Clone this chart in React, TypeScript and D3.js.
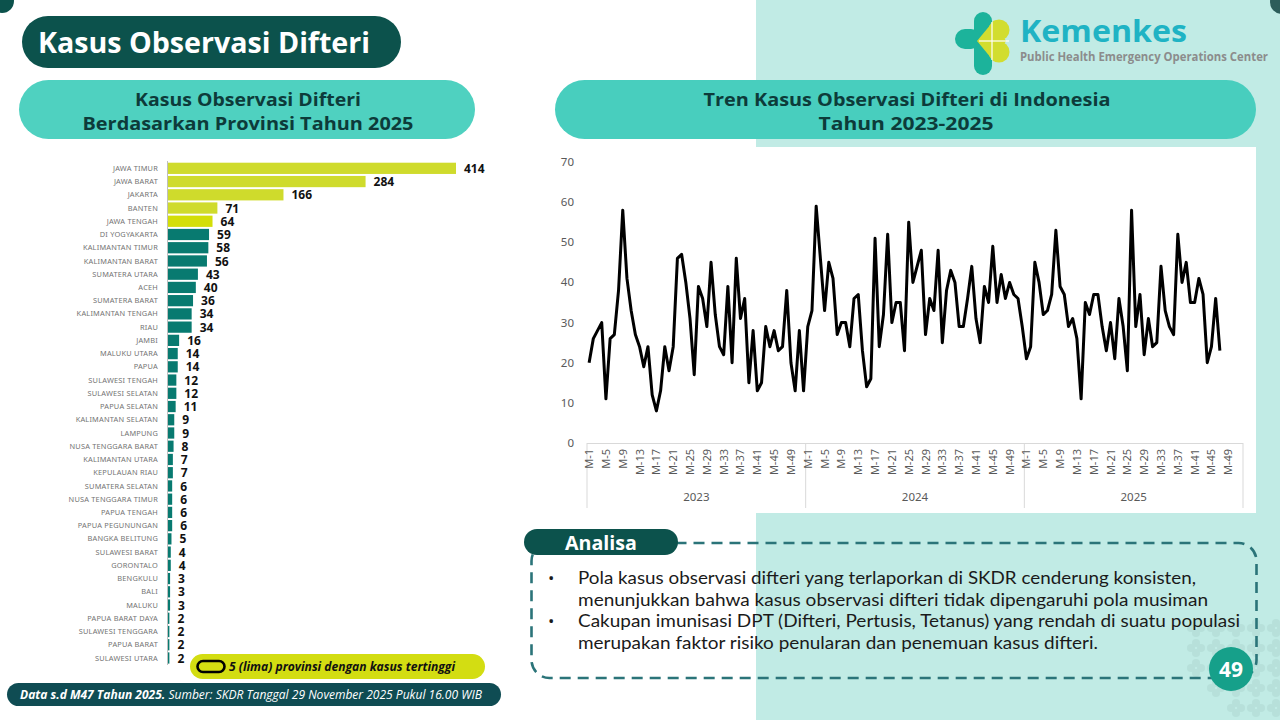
import * as d3 from "d3";

// provinces, 2025 (sorted as in the source)
const provinces = [
  "JAWA TIMUR", "JAWA BARAT", "JAKARTA", "BANTEN", "JAWA TENGAH", "DI YOGYAKARTA",
  "KALIMANTAN TIMUR", "KALIMANTAN BARAT", "SUMATERA UTARA", "ACEH", "SUMATERA BARAT",
  "KALIMANTAN TENGAH", "RIAU", "JAMBI", "MALUKU UTARA", "PAPUA", "SULAWESI TENGAH",
  "SULAWESI SELATAN", "PAPUA SELATAN", "KALIMANTAN SELATAN", "LAMPUNG",
  "NUSA TENGGARA BARAT", "KALIMANTAN UTARA", "KEPULAUAN RIAU", "SUMATERA SELATAN",
  "NUSA TENGGARA TIMUR", "PAPUA TENGAH", "PAPUA PEGUNUNGAN", "BANGKA BELITUNG",
  "SULAWESI BARAT", "GORONTALO", "BENGKULU", "BALI", "MALUKU", "PAPUA BARAT DAYA",
  "SULAWESI TENGGARA", "PAPUA BARAT", "SULAWESI UTARA",
];
const provinceCases = [
  414, 284, 166, 71, 64, 59, 58, 56, 43, 40, 36, 34, 34, 16, 14, 14, 12, 12, 11, 9, 9,
  8, 7, 7, 6, 6, 6, 6, 5, 4, 4, 3, 3, 3, 2, 2, 2, 2,
];
const topN = 5;

// weekly trend
const years = ["2023", "2024", "2025"];
const weeksPerYear = 52;
const weekly2023 = [
  20, 26, 28, 30, 11, 26, 27, 38, 58, 41, 33, 27, 24, 19, 24, 12, 8, 13, 24, 18, 24, 46,
  47, 40, 31, 17, 39, 36, 29, 45, 32, 24, 22, 39, 20, 46, 31, 36, 15, 28, 13, 15, 29, 24,
  28, 23, 24, 38, 20, 13, 28, 13,
];
const weekly2024 = [
  29, 33, 59, 46, 33, 45, 41, 27, 30, 30, 24, 36, 37, 23, 14, 16, 51, 24, 32, 52, 30, 35,
  35, 23, 55, 40, 44, 48, 27, 36, 33, 48, 25, 38, 43, 40, 29, 29, 36, 44, 31, 25, 39, 35,
  49, 35, 42, 36, 40, 37, 36, 29,
];
const weekly2025 = [
  21, 24, 45, 40, 32, 33, 37, 53, 39, 37, 29, 31, 26, 11, 35, 32, 37, 37, 29, 23, 30, 21,
  36, 29, 18, 58, 29, 37, 22, 31, 24, 25, 44, 33, 29, 27, 52, 40, 45, 35, 35, 41, 37, 20,
  24, 36, 23,
];
const yTicks = [0, 10, 20, 30, 40, 50, 60, 70];

const analisa = [
  "Pola kasus observasi difteri yang terlaporkan di SKDR cenderung konsisten,",
  "menunjukkan bahwa kasus observasi difteri tidak dipengaruhi pola musiman",
  "Cakupan imunisasi DPT (Difteri, Pertusis, Tetanus) yang rendah di suatu populasi",
  "merupakan faktor risiko penularan dan penemuan kasus difteri.",
];
const analisaWidths = [618, 630, 662, 520];
const bulletStarts = [0, 2];

const DARK = "#0c524c";
const TEAL = "#087a70";
const LIME = "#cfdb2c";

function BarChart() {
  const x = d3.scaleLinear().domain([0, 414]).range([168, 456]);
  const y = d3.scaleBand().domain(provinces).range([162.7, 663.6]).paddingInner(0.15);
  return (
    <g>
      <line x1={167.5} x2={167.5} y1={161} y2={665} stroke="#bfbfbf" strokeWidth={1} />
      {provinces.map((p, i) => {
        const yy = y(p)!;
        const cy = yy + y.bandwidth() / 2;
        return (
          <g key={p}>
            <text x={158} y={cy + 2.6} textAnchor="end" fontSize={7.4} fill="#737373"
              fontFamily="Noto Sans" letterSpacing={0.2}>{p}</text>
            <rect x={x(0)} y={yy} width={x(provinceCases[i]) - x(0)} height={y.bandwidth()}
              fill={i < topN - 1 ? LIME : i === topN - 1 ? "#d3de08" : TEAL} />
            <text x={x(provinceCases[i]) + 8} y={cy + 4.6} fontSize={12} fontWeight={700}
              fill="#111">{provinceCases[i]}</text>
          </g>
        );
      })}
      <rect x={190} y={654} width={295} height={25} rx={12.5} fill="#d3dd12" />
      <rect x={197.5} y={661} width={27} height={11} rx={5.5} fill="none" stroke="#000" strokeWidth={2.6} />
      <text x={229} y={671} fontSize={12} fontWeight={700} fontStyle="italic" fill="#111"
        textLength={226} lengthAdjust="spacingAndGlyphs">5 (lima) provinsi dengan kasus tertinggi</text>
    </g>
  );
}

function LineChart() {
  const series = [weekly2023, weekly2024, weekly2025];
  const n = years.length * weeksPerYear;
  const x = d3.scaleBand<number>().domain(d3.range(n)).range([587, 1243]);
  const y = d3.scaleLinear().domain([0, 70]).range([443, 162]);
  const pts: [number, number][] = [];
  series.forEach((s, yi) =>
    s.forEach((v, wi) => pts.push([x(yi * weeksPerYear + wi)! + x.bandwidth() / 2, y(v)]))
  );
  const line = d3.line().curve(d3.curveLinear);
  const sep = d3.range(years.length + 1).map((k) => (k === years.length ? 1243 : x(k * weeksPerYear)!));
  return (
    <g>
      <rect x={555} y={147} width={701} height={366} fill="#fff" />
      {yTicks.map((t) => (
        <text key={t} x={574} y={y(t) + 4} textAnchor="end" fontSize={11.5} fill="#595959"
          fontFamily="Noto Sans">{t}</text>
      ))}
      <line x1={587} x2={1243} y1={443.5} y2={443.5} stroke="#d9d9d9" />
      {sep.map((sx, k) => (
        <line key={k} x1={sx} x2={sx} y1={443} y2={508} stroke="#d9d9d9" />
      ))}
      {years.map((yr, yi) =>
        d3.range(1, weeksPerYear + 1, 4).map((w) => {
          const cx = x(yi * weeksPerYear + w - 1)! + x.bandwidth() / 2;
          return (
            <text key={yr + w} transform={`translate(${cx + 4},449) rotate(-90)`} textAnchor="end"
              fontSize={11} fill="#595959" fontFamily="Noto Sans">{`M-${w}`}</text>
          );
        })
      )}
      {years.map((yr, yi) => (
        <text key={yr} x={(sep[yi] + sep[yi + 1]) / 2} y={501} textAnchor="middle" fontSize={11.5}
          fill="#595959" fontFamily="Noto Sans">{yr}</text>
      ))}
      <path d={line(pts)!} fill="none" stroke="#000" strokeWidth={3} strokeLinejoin="round" />
    </g>
  );
}

function Logo() {
  const yel = "#d2dd2f";
  return (
    <g>
      <rect x={974} y={12} width={18} height={63} rx={9} fill="#1cb39b" />
      <rect x={955} y={29} width={26} height={20} rx={10} fill="#1cb39b" />
      <circle cx={999} cy={30} r={10.5} fill={yel} />
      <circle cx={999} cy={52} r={10.5} fill={yel} />
      <path d="M977,41 L994,20.5 L1006,41 L994,61.5 Z" fill={yel} />
      <line x1={992} y1={22} x2={992} y2={60} stroke="#fff" strokeWidth={1.2} />
      <line x1={979} y1={41} x2={1009} y2={41} stroke="#fff" strokeWidth={1.2} />
      <text x={1020} y={42} fontSize={31} fontWeight={700} fill="#1fb3c4" fontFamily="Open Sans"
        textLength={167} lengthAdjust="spacingAndGlyphs">Kemenkes</text>
      <text x={1020} y={61} fontSize={11.5} fontWeight={700} fill="#8c8c8c" fontFamily="Open Sans"
        textLength={248} lengthAdjust="spacingAndGlyphs">Public Health Emergency Operations Center</text>
    </g>
  );
}

export default function App() {
  const blobs: [number, number][] = [];
  for (let i = 0; i < 5; i++)
    for (let j = 0; j < 5; j++) if (i + (4 - j) >= 2) blobs.push([1196 + i * 20, 628 + j * 20]);
  return (
    <svg width={1280} height={720} style={{ position: "absolute", left: 0, top: 0 }}
      fontFamily="Open Sans">
      <rect width={1280} height={720} fill="#fff" />
      <rect x={756} y={0} width={524} height={720} fill="#c1ebe5" />
      {blobs.map(([dx, dy], k) => (
        <g key={k} fill="#b3dcd6" opacity={0.7}>
          <circle cx={dx} cy={dy - 5} r={4} />
          <circle cx={dx} cy={dy + 5} r={4} />
          <circle cx={dx - 5} cy={dy} r={4} />
          <circle cx={dx + 5} cy={dy} r={4} />
        </g>
      ))}
      <circle cx={2} cy={1} r={12} fill={DARK} />
      <circle cx={1282} cy={2} r={12} fill="#2c5d5a" />

      <rect x={22} y={16} width={379} height={52} rx={26} fill={DARK} />
      <text x={38} y={53} fontSize={28} fontWeight={700} fill="#fff" textLength={332}
        lengthAdjust="spacingAndGlyphs">Kasus Observasi Difteri</text>

      <rect x={19} y={80} width={456} height={59} rx={29.5} fill="#4fd1c0" />
      <text x={248} y={106} textAnchor="middle" fontSize={18} fontWeight={700} fill="#0d3b3a"
        textLength={226} lengthAdjust="spacingAndGlyphs">Kasus Observasi Difteri</text>
      <text x={248} y={130} textAnchor="middle" fontSize={18} fontWeight={700} fill="#0d3b3a"
        textLength={331} lengthAdjust="spacingAndGlyphs">Berdasarkan Provinsi Tahun 2025</text>

      <rect x={555} y={80} width={701} height={59} rx={29.5} fill="#48cebe" />
      <text x={907} y={106} textAnchor="middle" fontSize={18} fontWeight={700} fill="#0d3b3a"
        textLength={407} lengthAdjust="spacingAndGlyphs">Tren Kasus Observasi Difteri di Indonesia</text>
      <text x={906} y={130} textAnchor="middle" fontSize={18} fontWeight={700} fill="#0d3b3a"
        textLength={175} lengthAdjust="spacingAndGlyphs">Tahun 2023-2025</text>

      <Logo />
      <BarChart />
      <LineChart />

      <rect x={7} y={683} width={494} height={23} rx={11.5} fill="#0f4c53" />
      <text x={20} y={699} fontSize={12} fontStyle="italic" fill="#fff" textLength={462}
        lengthAdjust="spacingAndGlyphs">
        <tspan fontWeight={700}>Data s.d M47 Tahun 2025.</tspan>
        <tspan> Sumber: SKDR Tanggal 29 November 2025 Pukul 16.00 WIB</tspan>
      </text>

      <rect x={531.5} y={543} width={725} height={135} rx={18} fill="none" stroke="#2b7479"
        strokeWidth={2.6} strokeDasharray="11 7" />
      <rect x={524} y={529} width={154} height={26} rx={13} fill={DARK} />
      <text x={601} y={550} textAnchor="middle" fontSize={19} fontWeight={700} fill="#fff"
        textLength={72} lengthAdjust="spacingAndGlyphs">Analisa</text>
      {analisa.map((t, i) => (
        <g key={i}>
          {bulletStarts.includes(i) && (
            <text x={548} y={584 + i * 21.7} fontSize={17} fill="#1a1a1a">•</text>
          )}
          <text x={578} y={584 + i * 21.7} fontSize={17} fill="#1a1a1a" fontFamily="Lato"
            textLength={analisaWidths[i]} lengthAdjust="spacingAndGlyphs">{t}</text>
        </g>
      ))}
      <circle cx={1231} cy={669} r={22} fill="#16a08a" />
      <text x={1231} y={677} textAnchor="middle" fontSize={21} fontWeight={700} fill="#fff">49</text>
    </svg>
  );
}
